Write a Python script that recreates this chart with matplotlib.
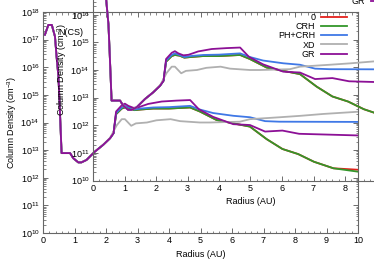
import numpy as np
import matplotlib
matplotlib.use("Agg")
import matplotlib.pyplot as plt
from matplotlib.ticker import MultipleLocator, LogLocator, NullFormatter

plt.rcParams['font.family'] = ['Liberation Sans', 'DejaVu Sans']
plt.rcParams['mathtext.default'] = 'regular'
plt.rcParams['font.size'] = 6.5

# N(CS) column density vs radius, one series per model
r_common = [0.06, 0.17, 0.28, 0.38, 0.43, 0.49, 0.53, 0.59, 0.70, 0.86, 0.96,
            1.12, 1.22, 1.38, 1.65, 1.91, 2.13, 2.24]
n_common = [1.5e17, 3.4e17, 3.4e17, 1.3e17, 2.5e16, 4.6e15, 4.0e14, 7.8e12,
            7.8e12, 7.8e12, 5.1e12, 3.6e12, 3.6e12, 4.4e12, 8.9e12, 1.55e13,
            2.7e13, 4.1e13]

r_gr = [2.32, 2.5, 2.6, 2.71, 2.87, 3.03, 3.34, 3.77, 4.24, 4.67, 4.95, 5.4,
        6.04, 6.57, 7.05, 7.6, 8.13, 10.0]
n_gr = [2.5e14, 4.2e14, 4.8e14, 4.0e14, 3.4e14, 3.55e14, 4.7e14, 5.75e14,
        6.2e14, 6.5e14, 3.0e14, 1.6e14, 8.7e13, 8.1e13, 4.7e13, 5.1e13,
        3.9e13, 3.4e13]

r_ph = [2.32, 2.5, 2.6, 2.75, 2.9, 3.1, 3.5, 4.0, 4.67, 4.98, 5.4, 6.04,
        6.57, 7.05, 7.5, 10.0]
n_ph = [2.2e14, 3.5e14, 4.0e14, 3.5e14, 2.95e14, 3.2e14, 3.5e14, 3.6e14,
        4.0e14, 2.95e14, 2.2e14, 1.75e14, 1.55e14, 1.12e14, 1.07e14, 1.05e14]

r_crh = [2.32, 2.5, 2.6, 2.75, 2.9, 3.1, 3.5, 4.0, 4.67, 4.98, 5.51, 6.04,
         6.57, 7.1, 7.6, 8.1, 8.6, 9.22, 10.0]
n_crh = [2.0e14, 3.2e14, 3.5e14, 3.3e14, 2.8e14, 2.95e14, 3.2e14, 3.2e14,
         3.5e14, 2.5e14, 1.23e14, 9.3e13, 7.1e13, 2.5e13, 1.1e13, 7.2e12,
         3.8e12, 2.2e12, 1.66e12]
n_zero = [2.0e14, 3.2e14, 3.5e14, 3.3e14, 2.8e14, 2.95e14, 3.2e14, 3.2e14,
          3.5e14, 2.5e14, 1.23e14, 9.3e13, 7.1e13, 2.5e13, 1.1e13, 7.2e12,
          3.8e12, 2.2e12, 1.95e12]

r_xd = [2.13, 2.34, 2.5, 2.6, 2.8, 2.95, 3.3, 3.6, 4.05, 4.35, 4.98, 5.3,
        6.25, 6.57, 7.52, 8.16, 8.9, 10.0]
n_xd = [2.8e13, 7.9e13, 1.32e14, 1.32e14, 7.6e13, 9.3e13, 1.0e14, 1.2e14,
        1.32e14, 1.12e14, 1.0e14, 1.0e14, 1.07e14, 1.32e14, 1.55e14, 1.74e14,
        2.04e14, 2.45e14]

labels = ['0', 'CRH', 'PH+CRH', 'XD', 'GR']
colors = ['#e3211c', '#33962a', '#3f78e6', '#b0b0b0', '#8c1096']


def full(r_tail, n_tail, cut=2.24):
    r = [x for x in r_common if x <= cut and x < r_tail[0]] + r_tail
    n = [y for x, y in zip(r_common, n_common) if x <= cut and x < r_tail[0]] + n_tail
    return r, n


series = [full(r_crh, n_zero), full(r_crh, n_crh), full(r_ph, n_ph),
          full(r_xd, n_xd), full(r_gr, n_gr)]


def draw(ax):
    for (r, n), lab, c in zip(series, labels, colors):
        ax.plot(r, n, color=c, lw=1.3, label=lab)
    ax.set_yscale('log')
    ax.set_xlim(0, 10)
    ax.set_ylim(1e10, 1e18)
    ax.xaxis.set_major_locator(MultipleLocator(1))
    ax.xaxis.set_minor_locator(MultipleLocator(0.2))
    ax.yaxis.set_major_locator(LogLocator(base=10, numticks=20))
    ax.yaxis.set_minor_locator(LogLocator(base=10, subs=np.arange(2, 10), numticks=20))
    ax.yaxis.set_minor_formatter(NullFormatter())
    ax.tick_params(which='both', direction='in', top=True, right=True,
                   color='#555555', labelsize=6.5, pad=2.5)
    ax.tick_params(which='major', length=3.5, width=0.6)
    ax.tick_params(which='minor', length=1.8, width=0.5)
    for s in ax.spines.values():
        s.set_color('#666666')
        s.set_linewidth(0.8)
    ax.set_xlabel('Radius (AU)', labelpad=3)
    ax.set_ylabel('Column Density (cm$^{-3}$)', labelpad=1)
    ax.text(0.089, 0.905, 'N(CS)', transform=ax.transAxes, ha='center', va='center')
    ax.legend(loc='upper right', bbox_to_anchor=(0.965, 0.995), frameon=False,
              markerfirst=False, handlelength=2.9, handletextpad=0.6,
              labelspacing=0.02, borderpad=0, borderaxespad=0, fontsize=6.5)


W, H = 374, 262
fig = plt.figure(figsize=(W / 100, H / 100), dpi=100)
ax_main = fig.add_axes([43 / W, 1 - 233 / H, 315 / W, 221 / H])
draw(ax_main)
ax_in = fig.add_axes([93 / W, 1 - 180.5 / H, 315 / W, 221 / H])
ax_in.patch.set_alpha(0)
draw(ax_in)

fig.savefig('out.png', dpi=100)
